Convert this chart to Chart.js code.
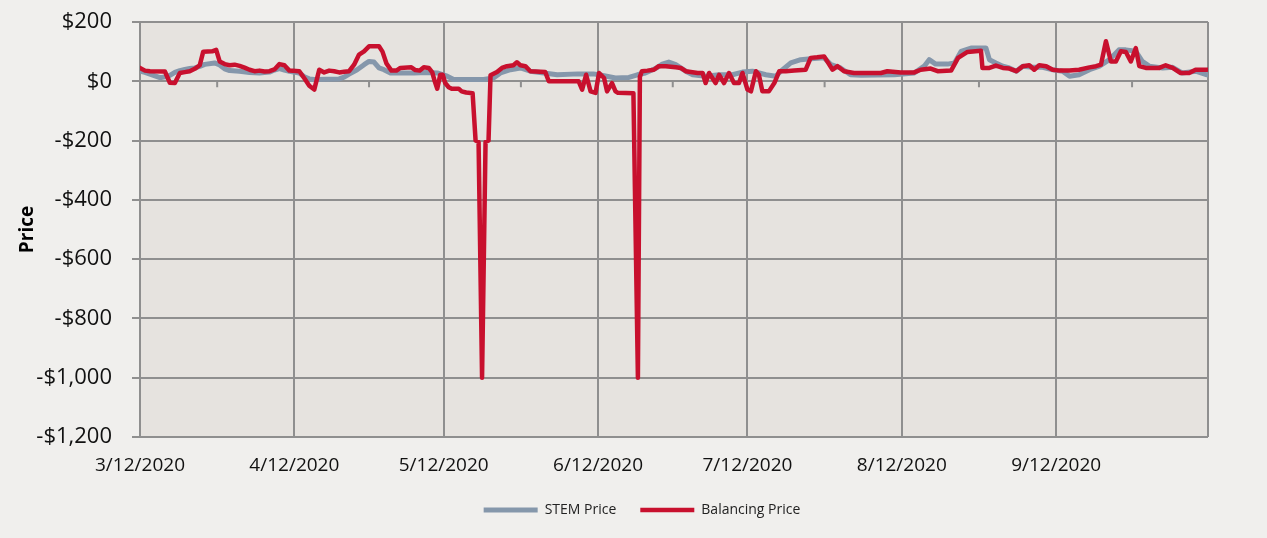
<!DOCTYPE html>
<html>
<head>
<meta charset="utf-8">
<script src="https://cdn.jsdelivr.net/npm/chart.js@4.4.1/dist/chart.umd.min.js"></script>
<style>
  html, body { margin: 0; padding: 0; background: #f0efed; }
  #wrap { width: 1267px; height: 538px; }
</style>
</head>
<body>
<div id="wrap"><canvas id="chart" width="1267" height="538"></canvas></div>
<script>
// Eje X: días desde 3/12/2020
const tickDays = [0, 31, 61, 92, 122, 153, 184];
const tickLabels = ['3/12/2020', '4/12/2020', '5/12/2020', '6/12/2020', '7/12/2020', '8/12/2020', '9/12/2020'];
const lastDay = 214.5;

// STEM Price
const stemDays = [0, 1, 2, 3, 4, 5, 6, 7, 8, 9, 10, 11, 12, 13, 15, 16, 17, 18, 20, 22, 24, 26, 27, 28, 29, 30,
  32, 33, 34, 35, 40, 41, 42, 43.6, 45, 46, 47, 48, 49, 50.3, 55, 57.6, 59.7, 61.7, 63, 69, 71, 72.4, 74.4,
  76.4, 78.4, 81.1, 83.8, 88, 91, 92.2, 95.5, 98.2, 99.9, 101.5, 103.5, 104.9, 106.2, 107.6, 109.6, 111,
  113.6, 116.3, 119, 121, 123, 125.7, 127.7, 128.7, 130.7, 132.7, 134.7, 137.4, 138.8, 140.7, 142.7, 144.8,
  151.5, 155.5, 157.5, 158.5, 159.8, 162.2, 163.6, 164.9, 166.9, 169.9, 170.6, 171.9, 173.3, 174.6, 176,
  177.3, 179.3, 181.3, 183.3, 185.3, 186.7, 188.6, 190.7, 192.7, 194.7, 196.6, 198, 200, 201.3, 202.7,
  205.4, 207.4, 209.3, 212, 214.3];
const stemPrice = [34, 30, 24, 18, 12, 15, 20, 30, 36, 40, 43, 45, 50, 57, 62, 55, 42, 36, 34, 30, 28, 31, 38, 43, 38, 34,
  28, 15, 8, 6, 8, 14, 24, 39, 56, 67, 65, 45, 39, 28, 28, 30, 28, 17, 6, 6, 11, 28, 39,
  45, 34, 28, 22, 25, 25, 22, 11, 13, 22, 28, 43, 58, 65, 56, 34, 22,
  17, 22, 22, 31, 34, 22, 17, 34, 62, 73, 76, 79, 56, 45, 22, 20,
  22, 28, 51, 73, 58, 58, 62, 101, 112, 112, 73, 62, 51, 45, 34,
  51, 47, 47, 39, 34, 17, 22, 39, 51, 73, 106, 106, 101, 67, 51,
  45, 47, 28, 34, 22];

// Balancing Price
const balDays = [0, 1, 2, 5, 6, 7, 8, 9, 10, 11, 12, 12.7, 14.5, 15.3, 16, 17, 18, 19, 20, 21, 22, 23, 24, 25, 26, 27,
  28, 29, 30, 32, 33, 34, 35, 36, 37, 38, 39, 40, 41, 42, 43, 44, 45, 46, 48, 48.7, 49.5, 50.5, 51.5, 52.3,
  54.5, 55.3, 56.2, 57, 58, 58.7, 59.2, 59.7, 60.3, 60.8, 61.3, 62, 62.6, 64, 64.6, 65.5, 66.8, 67.4, 68,
  68.7, 69.4, 70, 70.4, 71.7, 72.7, 73.7, 75, 75.7, 76.4, 77.4, 78.4, 81.4, 82.1, 88.1, 88.8, 89.6, 90.5,
  91.5, 92.2, 93.2, 93.8, 94.8, 95.5, 96, 99.1, 100, 100.4, 100.8, 101.9, 103.2, 104.2, 105.6, 107.6,
  108.6, 109.6, 112, 113, 113.6, 114.3, 115.6, 116.3, 117.3, 118.3, 119.3, 120.3, 121, 122, 122.7, 123.7,
  124.3, 125, 126.3, 127.4, 128.4, 129.7, 131.4, 133.7, 134.7, 136, 137.4, 139.1, 140.1, 141.4, 143.4,
  148.8, 150.1, 152.8, 155.5, 156.8, 158.8, 160.2, 162.9, 164.3, 166.2, 168.9, 169.2, 170.6, 171.9, 173.3,
  174.6, 176, 177.3, 178.6, 179.6, 180.6, 182, 183.3, 184.7, 186.7, 188.6, 190.7, 192, 193, 194, 195, 196,
  197, 198, 199, 200, 200.7, 202, 204.7, 206, 207.4, 209, 210.7, 212, 214.3];
const balPrice = [45, 36, 34, 33, -5, -6, 28, 31, 34, 42, 54, 100, 101, 106, 67, 58, 54, 56, 52, 46, 39, 34, 36, 33, 34, 40,
  58, 54, 36, 34, 10, -15, -28, 39, 30, 36, 34, 30, 32, 34, 56, 90, 101, 118, 118, 100, 60, 36, 36, 45,
  47, 38, 36, 47, 45, 30, 0, -25, 22, 22, -6, -20, -25, -25, -34, -38, -40, -200, -205,
  -1000, -205, -200, 20, 31, 45, 51, 54, 64, 54, 51, 34, 31, 0, 0, -28, 22, -34,
  -39, 28, 11, -34, -6, -34, -39, -40, -1000, 15, 34, 36, 39, 51, 51, 47,
  45, 34, 28, 28, -6, 28, -6, 22, -6, 28, -6, -6, 28, -28, -34, 34,
  22, -34, -34, -6, 34, 34, 36, 39, 79, 81, 84, 39, 51, 34, 28,
  28, 34, 30, 30, 39, 43, 34, 36, 79, 99, 103, 45, 45, 53, 45,
  43, 34, 51, 54, 39, 54, 51, 39, 36, 36, 39, 47, 51, 56, 135, 67, 67,
  101, 99, 67, 112, 51, 45, 45, 54, 45, 28, 28, 39, 39];

const gridColor = '#8f8f8f';

function toPoints(days, values) {
  return days.map((d, i) => ({ x: d, y: values[i] }));
}

// Fondo del área de trazado y marcas menores sobre $0
const plotArea = {
  id: 'plotArea',
  beforeDraw(chart) {
    const { ctx, chartArea: a } = chart;
    ctx.save();
    ctx.fillStyle = '#e6e3df';
    ctx.fillRect(a.left, a.top, a.right - a.left, a.bottom - a.top);
    ctx.restore();
  },
  beforeDatasetsDraw(chart) {
    const { ctx, scales: { x, y } } = chart;
    const y0 = y.getPixelForValue(0);
    const marks = [];
    for (let i = 0; i < tickDays.length - 1; i++) marks.push((tickDays[i] + tickDays[i + 1]) / 2);
    marks.push((tickDays[tickDays.length - 1] + lastDay) / 2);
    marks.push(lastDay);
    ctx.save();
    ctx.strokeStyle = gridColor;
    ctx.lineWidth = 2;
    ctx.beginPath();
    marks.forEach(m => {
      const px = x.getPixelForValue(m);
      ctx.moveTo(px, y0);
      ctx.lineTo(px, y0 + 6);
    });
    ctx.stroke();
    ctx.restore();
  },
  afterLayout(chart) {
    chart.legend.left += 38;
    chart.legend.right += 38;
  }
};

Chart.defaults.font.family = '"Open Sans", sans-serif';
Chart.defaults.color = '#111';

new Chart(document.getElementById('chart'), {
  type: 'line',
  data: {
    datasets: [
      {
        label: 'STEM Price',
        data: toPoints(stemDays, stemPrice),
        borderColor: '#8597ab',
        backgroundColor: '#8597ab',
        borderWidth: 5,
        pointRadius: 0,
        tension: 0,
        borderJoinStyle: 'round',
        borderCapStyle: 'round',
        order: 1
      },
      {
        label: 'Balancing Price',
        data: toPoints(balDays, balPrice),
        borderColor: '#c8102e',
        backgroundColor: '#c8102e',
        borderWidth: 4.5,
        pointRadius: 0,
        tension: 0,
        borderJoinStyle: 'round',
        borderCapStyle: 'round',
        order: 0
      }
    ]
  },
  options: {
    responsive: false,
    animation: false,
    devicePixelRatio: 1,
    layout: { padding: { left: 0, right: 59, top: 22, bottom: 11 } },
    plugins: {
      tooltip: { enabled: false },
      legend: {
        position: 'bottom',
        labels: {
          usePointStyle: true,
          pointStyle: 'line',
          pointStyleWidth: 54,
          padding: 24,
          color: '#222',
          font: { size: 14 },
          sort: (a, b) => a.datasetIndex - b.datasetIndex
        }
      }
    },
    scales: {
      x: {
        type: 'linear',
        min: 0,
        max: lastDay,
        afterBuildTicks: s => {
          s.ticks = tickDays.map(v => ({ value: v })).concat([{ value: lastDay }]);
        },
        afterFit: s => { s.height = 42; },
        grid: { color: gridColor, lineWidth: 2, drawTicks: false },
        border: { display: false },
        ticks: {
          autoSkip: false,
          maxRotation: 0,
          padding: 17,
          color: '#111',
          font: { size: 19 },
          callback: v => {
            const i = tickDays.indexOf(v);
            return i >= 0 ? tickLabels[i] : '';
          }
        }
      },
      y: {
        min: -1200,
        max: 200,
        afterFit: s => {
          s.width = 140;
          s.paddingTop = 0;
          s.paddingBottom = 0;
        },
        grid: { color: gridColor, lineWidth: 2, tickLength: 8 },
        border: { color: gridColor, width: 2 },
        title: {
          display: true,
          text: 'Price',
          color: '#000',
          font: { size: 19, weight: 'bold' },
          padding: { top: 16, bottom: 0 }
        },
        ticks: {
          stepSize: 200,
          padding: 20,
          color: '#111',
          font: { size: 22 },
          callback: v => (v < 0 ? '-' : '') + '$' + Math.abs(v).toLocaleString('en-US')
        }
      }
    }
  },
  plugins: [plotArea]
});
</script>
</body>
</html>
